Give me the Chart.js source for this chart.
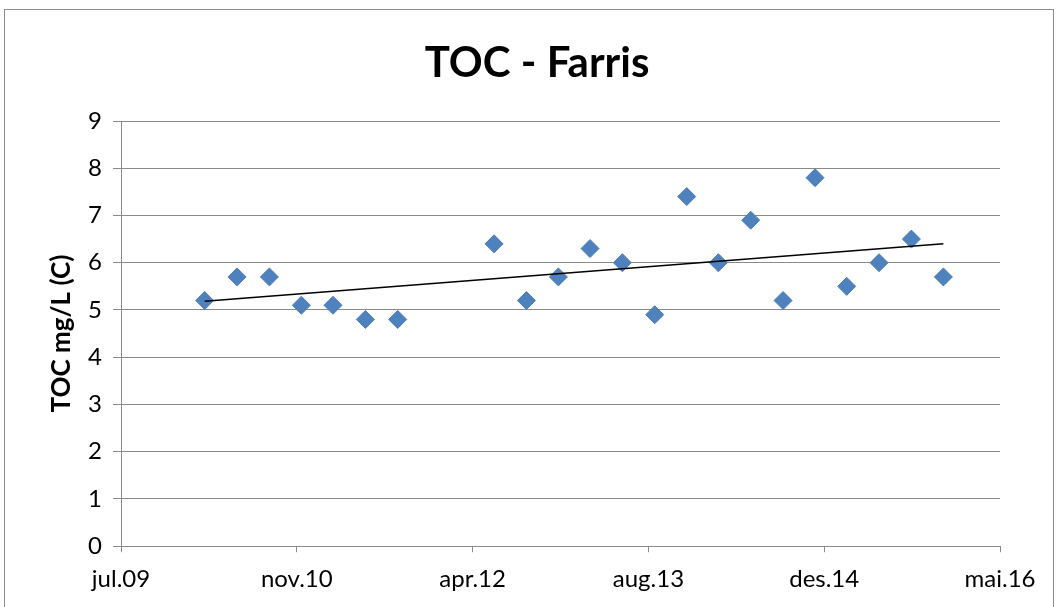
<!DOCTYPE html>
<html>
<head>
<meta charset="utf-8">
<script src="https://cdn.jsdelivr.net/npm/chart.js@4/dist/chart.umd.min.js"></script>
<style>
    html, body { margin: 0; padding: 0; background: #fff; }
    #wrap { position: relative; width: 1056px; height: 607px; overflow: hidden; }
    #frame { position: absolute; left: 4px; top: 9px; width: 1048px; height: 620px; border: 1px solid #8c8c8c; }
    #chart { position: absolute; left: 0; top: 0; }
</style>
</head>
<body>
<div id="wrap">
    <div id="frame"></div>
    <canvas id="chart" width="1056" height="607"></canvas>
</div>
<script>
const sampleDates = [
    '2010-03-01', '2010-06-01', '2010-09-01', '2010-12-01', '2011-03-01', '2011-06-01', '2011-09-01',
    '2012-06-01', '2012-09-01', '2012-12-01', '2013-03-01', '2013-06-01', '2013-09-01', '2013-12-01',
    '2014-03-01', '2014-06-01', '2014-09-01', '2014-12-01', '2015-03-01', '2015-06-01', '2015-09-01',
    '2015-12-01'
];

const tocValues = [5.2, 5.7, 5.7, 5.1, 5.1, 4.8, 4.8, 6.4, 5.2, 5.7, 6.3, 6.0, 4.9, 7.4, 6.0, 6.9, 5.2, 7.8, 5.5, 6.0, 6.5, 5.7];

const tickLabels = ['jul.09', 'nov.10', 'apr.12', 'aug.13', 'des.14', 'mai.16'];

// excel style day numbers so the axis ticks land on the same dates
const toSerial = s => (Date.parse(s + 'T00:00:00Z') - Date.UTC(1899, 11, 30)) / 86400000;

const xMin = 40000;
const xStep = 500;

const points = sampleDates.map((d, i) => ({ x: toSerial(d), y: tocValues[i] }));

// linear trend (least squares)
const n = points.length;
const mx = points.reduce((a, p) => a + p.x, 0) / n;
const my = points.reduce((a, p) => a + p.y, 0) / n;
let sxy = 0, sxx = 0;
points.forEach(p => { sxy += (p.x - mx) * (p.y - my); sxx += (p.x - mx) * (p.x - mx); });
const slope = sxy / sxx;
const trendAt = x => my + slope * (x - mx);
const trend = [points[0].x, points[n - 1].x].map(x => ({ x: x, y: trendAt(x) }));

const FONT = 'Lato, "Open Sans", sans-serif';
const GRID = '#8a8a8a';

const data = {
    datasets: [
        {
            type: 'scatter',
            label: 'TOC',
            data: points,
            pointStyle: 'rectRot',
            pointRadius: 9,
            pointBackgroundColor: '#4F81BD',
            pointBorderColor: '#4A7EBB',
            pointBorderWidth: 1,
            order: 1
        },
        {
            type: 'line',
            label: 'Trend',
            data: trend,
            borderColor: '#000',
            borderWidth: 1.5,
            pointRadius: 0,
            fill: false,
            order: 0
        }
    ]
};

const options = {
    animation: false,
    responsive: false,
    layout: {
        padding: { left: 18, right: 0, top: 0, bottom: 0 }
    },
    plugins: {
        legend: { display: false },
        tooltip: { enabled: false },
        title: {
            display: true,
            text: 'TOC - Farris',
            color: '#000',
            font: { family: FONT, size: 42, weight: 'bold' },
            padding: { top: 38, bottom: 32.6 }
        }
    },
    scales: {
        x: {
            type: 'linear',
            min: xMin,
            max: xMin + xStep * (tickLabels.length - 1),
            border: { display: true, color: GRID, width: 1 },
            grid: { drawOnChartArea: false, drawTicks: true, tickLength: 6, color: GRID },
            ticks: {
                stepSize: xStep,
                color: '#000',
                padding: 13,
                maxRotation: 0,
                font: { family: FONT, size: 24 },
                callback: v => tickLabels[Math.round((v - xMin) / xStep)]
            },
            afterFit: scale => { scale.paddingRight = 56; }
        },
        y: {
            min: 0,
            max: 9,
            border: { display: true, color: GRID, width: 1 },
            grid: { color: GRID, tickLength: 8 },
            ticks: {
                stepSize: 1,
                color: '#000',
                padding: 11,
                font: { family: FONT, size: 24 }
            },
            title: {
                display: true,
                text: 'TOC mg/L (C)',
                color: '#000',
                font: { family: FONT, size: 26, weight: 'bold' },
                padding: { top: 28, bottom: 0 }
            },
            afterFit: scale => { scale.width = 103; }
        }
    }
};

const chart = new Chart(document.getElementById('chart'), {
    data: data,
    options: options
});
</script>
</body>
</html>
